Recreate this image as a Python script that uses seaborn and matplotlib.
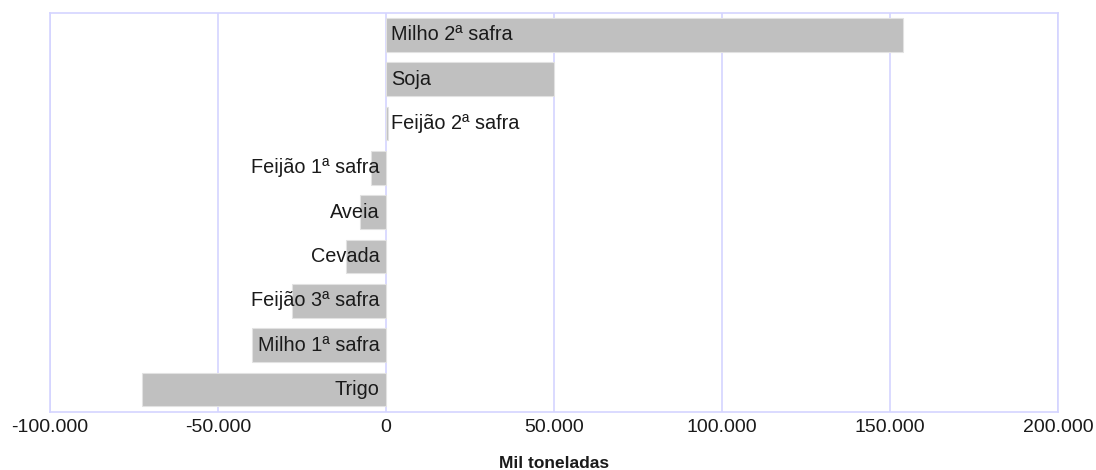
import matplotlib
matplotlib.use("Agg")
import matplotlib.pyplot as plt
from matplotlib.ticker import FuncFormatter, FixedLocator
import seaborn as sns
import pandas as pd

categories = ["Milho 2ª safra", "Soja", "Feijão 2ª safra", "Feijão 1ª safra",
              "Aveia", "Cevada", "Feijão 3ª safra", "Milho 1ª safra", "Trigo"]
values = [154000, 50000, 600, -4400, -7600, -11800, -28000, -40000, -72500]
x_ticks = [-100000, -50000, 0, 50000, 100000, 150000, 200000]
x_label = "Mil toneladas"

df = pd.DataFrame({"cultura": categories, "valor": values})

sns.set_theme(style="white")
plt.rcParams["font.family"] = ["Liberation Sans", "DejaVu Sans"]

fig = plt.figure(figsize=(10.96, 4.70), dpi=100)
ax = fig.add_axes([0.0456, 0.124, 0.9197, 0.849])

sns.barplot(data=df, x="valor", y="cultura", order=categories, orient="h",
            color="#c0c0c0", saturation=1, width=0.76, edgecolor="#e2e2e2",
            linewidth=0.8, ax=ax, zorder=3)

ax.set_xlim(x_ticks[0], x_ticks[-1])
ax.set_ylim(len(categories) - 0.5, -0.5)
ax.xaxis.set_major_locator(FixedLocator(x_ticks))
ax.xaxis.set_major_formatter(FuncFormatter(lambda v, p: f"{int(v):,}".replace(",", ".")))
ax.grid(axis="x", color="#d4d4ff", linewidth=1.2, zorder=0)
ax.set_axisbelow(True)
for s in ax.spines.values():
    s.set_color("#d4d4ff")
    s.set_linewidth(1.2)
ax.set_yticks([])
ax.set_ylabel("")
ax.tick_params(axis="x", length=0, pad=5, labelsize=14, labelcolor="#1a1a1a")
ax.set_xlabel(x_label, fontsize=12.5, fontweight="bold", color="#1a1a1a", labelpad=15)

for i, (c, v) in enumerate(zip(categories, values)):
    if v >= 0:
        ax.text(1500, i, c, ha="left", va="center", fontsize=14.3, color="#1a1a1a", zorder=4)
    else:
        ax.text(-2000, i, c, ha="right", va="center", fontsize=14.3, color="#1a1a1a", zorder=4)

fig.savefig("out.png", dpi=100)
